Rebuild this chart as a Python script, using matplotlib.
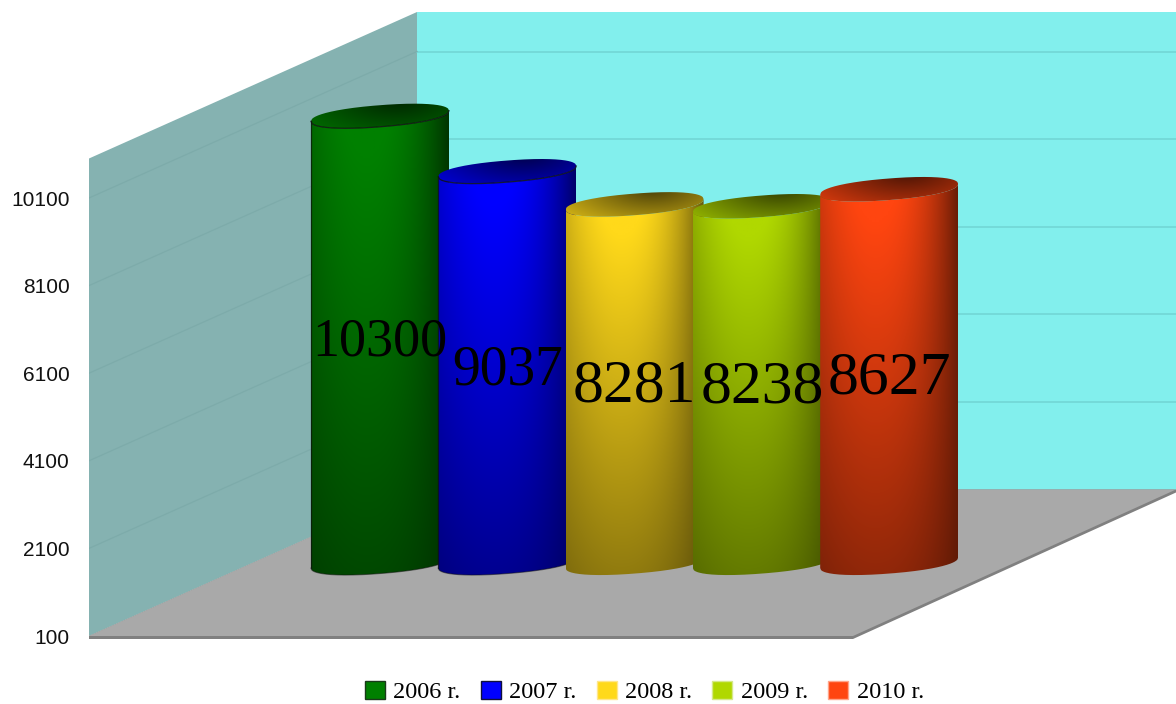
import numpy as np
import matplotlib
matplotlib.use('Agg')
import matplotlib.pyplot as plt
from matplotlib.patches import Patch, Polygon, PathPatch
from matplotlib.path import Path

years = ['2006 r.', '2007 r.', '2008 r.', '2009 r.', '2010 r.']
values = [10300, 9037, 8281, 8238, 8627]
bar_colors = ['#008000', '#0000ff', '#ffd91a', '#b0d800', '#ff4510']
legend_edges = ['#1a3a1a', '#10103a', '#ffe68a', '#d5e88a', '#ffa58a']
outlined = [True, True, False, False, False]
label_sizes = [39, 40, 44.5, 44.5, 44.5]
y_ticks = [100, 2100, 4100, 6100, 8100, 10100]

W, H = 1176, 704
# vertical scale: pixels per unit
PX = 0.0438
FLOOR_PX = 636
LEFT_PX = 89
DEPTH_X, DEPTH_Y = 328, 146.5
BAR_STEP = 127.3
BAR_X0 = 380
BAR_A, BAR_B, BAR_TILT = 69, 10.8, 5.3

fig = plt.figure(figsize=(W/100, H/100), dpi=100)
ax = fig.add_axes([LEFT_PX/W, 0, 1-LEFT_PX/W, 1])
ax.set_xlim(LEFT_PX, W)
ax.set_ylim(100-(H-FLOOR_PX)/PX, 100+FLOOR_PX/PX)
ax.set_yticks(y_ticks)
ax.set_yticklabels([str(t) for t in y_ticks], family='Liberation Sans', fontsize=15, color='#111111')
ax.tick_params(axis='y', length=0, pad=14)
ax.set_xticks([])
for s in ax.spines.values():
    s.set_visible(False)

dy = DEPTH_Y/PX  # depth in value units
back_x = LEFT_PX+DEPTH_X
wall_top = 100 + (FLOOR_PX-12-DEPTH_Y)/PX
floor_r = 853

# walls and floor
ax.add_patch(Polygon([(back_x, 100+dy), (back_x, wall_top+dy), (W, wall_top+dy), (W, 100+dy)],
                     fc='#82efed', ec='none', zorder=1))
ax.add_patch(Polygon([(LEFT_PX, 100), (LEFT_PX, wall_top), (back_x, wall_top+dy), (back_x, 100+dy)],
                     fc='#85b2b1', ec='none', zorder=1))
ax.add_patch(Polygon([(LEFT_PX, 100-3/PX), (floor_r, 100-3/PX), (W, 100+dy-3/PX), (W, 100+dy),
                      (back_x, 100+dy), (LEFT_PX, 100)], fc='#808080', ec='none', zorder=2))
ax.add_patch(Polygon([(LEFT_PX, 100), (back_x, 100+dy), (W, 100+dy), (floor_r, 100)],
                     fc='#a9a9a9', ec='none', zorder=2))
for t in y_ticks[1:]:
    ax.plot([back_x, W], [t+dy, t+dy], color='#72d6d5', lw=1.2, zorder=1.5)
    ax.plot([LEFT_PX, back_x], [t, t+dy], color='#7dabaa', lw=0.9, zorder=1.5)


def cylinder(i, value):
    cx = BAR_X0 + i*BAR_STEP
    base = 100 + dy/2
    head = value + dy/2
    c = np.array(matplotlib.colors.to_rgb(bar_colors[i]))
    u = np.linspace(-1, 1, 160)
    bx = cx + BAR_A*u
    tilt = BAR_TILT*u/PX
    arc = BAR_B*(1-np.abs(u)**2.2)**(1/2.2)/PX
    z = 20 + i*2

    # side of the cylinder, lit from the top, a bit left of the middle
    side = Path(np.r_[np.c_[bx, head+tilt-arc], np.c_[bx[::-1], (base+tilt-arc)[::-1]]])
    uu, vv = np.meshgrid(u, np.linspace(0, 1, 220))
    across = np.where(uu < -0.2,
                      1-0.22*(np.abs(uu+0.2)/0.8)**2,
                      1-0.62*(np.abs(uu+0.2)/1.2)**2.2)
    shade = 1.06*(1-0.47*vv)*(1-(1-0.45*vv)*(1-across))
    img = np.clip(shade, 0, 1)[..., None]*c
    ext = [cx-BAR_A, cx+BAR_A, base-(BAR_B+BAR_TILT)/PX, head+(BAR_B+BAR_TILT)/PX]
    im = ax.imshow(img, extent=ext, origin='upper', aspect='auto', zorder=z, interpolation='bilinear')
    patch = PathPatch(side, fc='none', ec='none', transform=ax.transData)
    ax.add_patch(patch)
    im.set_clip_path(patch)

    # lid, darkest towards the back right
    lid = Path(np.r_[np.c_[bx, head+tilt-arc], np.c_[bx[::-1], (head+tilt+arc)[::-1]]])
    lx, ly = np.meshgrid(u, np.linspace(1, -1, 60))
    rad = np.sqrt((lx-0.25)**2+((ly-0.9)/1.6)**2)
    img2 = np.clip(0.3+0.33*rad, 0, 1)[..., None]*c
    ext2 = [cx-BAR_A, cx+BAR_A, head-(BAR_B+BAR_TILT)/PX, head+(BAR_B+BAR_TILT)/PX]
    im2 = ax.imshow(img2, extent=ext2, origin='upper', aspect='auto', zorder=z+0.1, interpolation='bilinear')
    patch2 = PathPatch(lid, fc='none', ec='none', transform=ax.transData)
    ax.add_patch(patch2)
    im2.set_clip_path(patch2)

    if outlined[i]:
        ax.plot([bx[0], bx[0]], [head+tilt[0], base+tilt[0]], color='#111111', lw=0.9, alpha=0.7, zorder=z+0.2)
        ax.plot(bx, base+tilt-arc, color='#111111', lw=0.8, alpha=0.5, zorder=z+0.2)
        ax.plot(bx, head+tilt-arc, color='#111111', lw=0.9, alpha=0.8, zorder=z+0.2)

    ax.text(cx, (head+base)/2-3/PX, str(value), family='Liberation Serif', fontsize=label_sizes[i],
            ha='center', va='center', color='black', zorder=50)


for i, val in enumerate(values):
    cylinder(i, val)

ax.set_xlim(LEFT_PX, W)
ax.set_ylim(100-(H-FLOOR_PX)/PX, 100+FLOOR_PX/PX)

handles = [Patch(fc=c, ec=e, lw=1, label=y) for c, e, y in zip(bar_colors, legend_edges, years)]
fig.legend(handles=handles, ncol=5, loc='center', bbox_to_anchor=(644.5/W, 1-692/H), frameon=False,
           prop={'family': 'Liberation Serif', 'size': 17.5}, handlelength=0.82, handleheight=0.78,
           handletextpad=0.36, columnspacing=0.82, borderpad=0, labelspacing=0)

fig.savefig('out.png', dpi=100)
